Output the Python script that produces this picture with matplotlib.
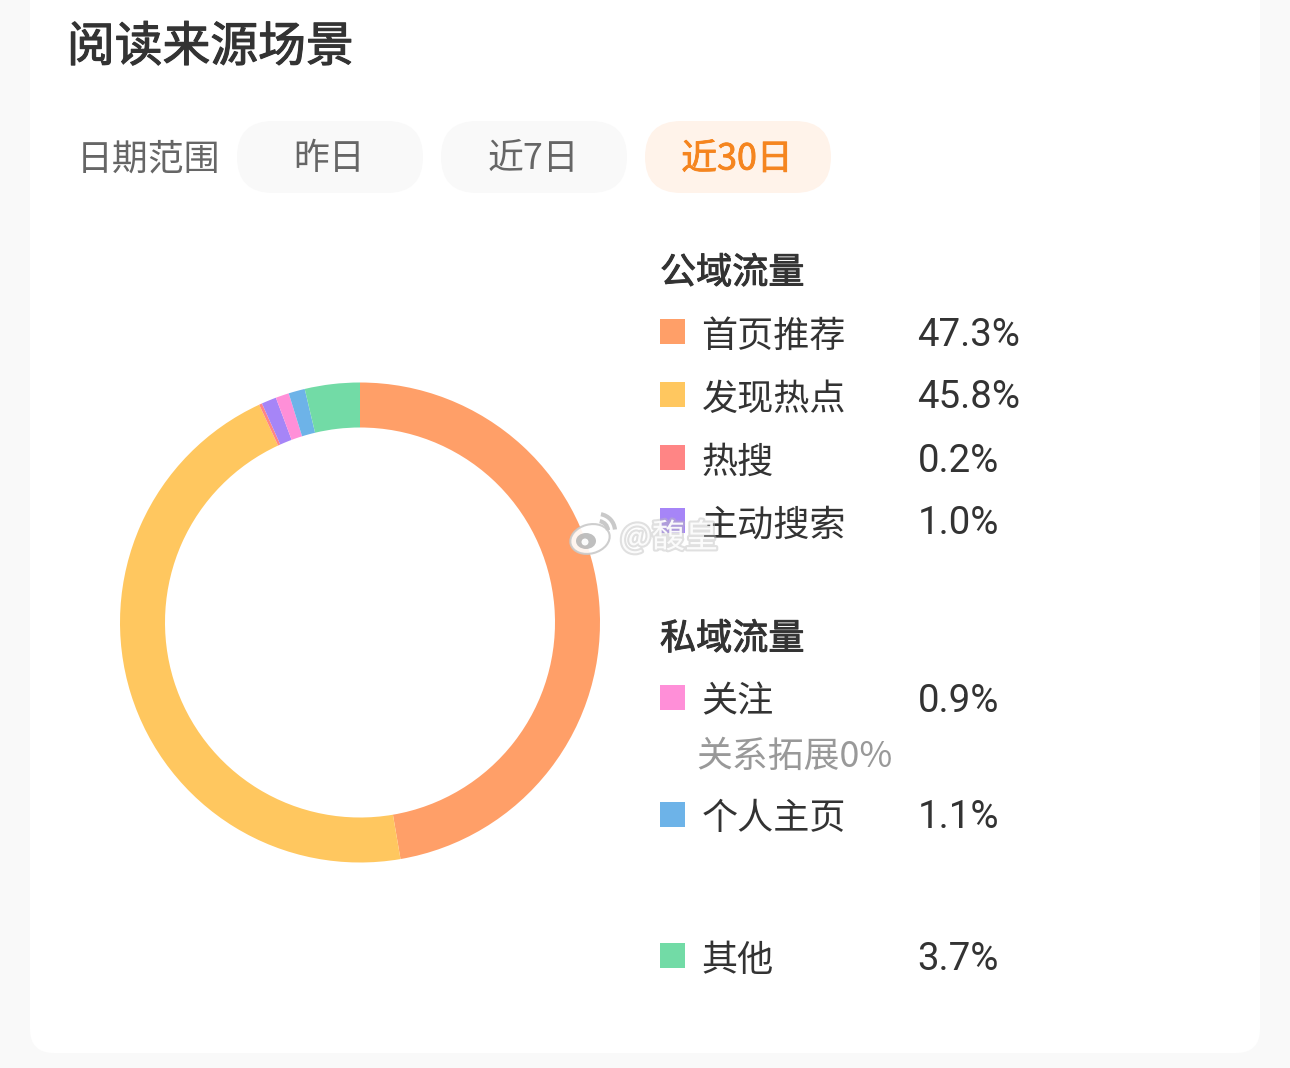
import matplotlib
matplotlib.use("Agg")
import matplotlib.pyplot as plt
import matplotlib.patheffects as pe
from matplotlib.patches import FancyBboxPatch, Rectangle, Ellipse, Arc

plt.rcParams['font.family'] = ['Noto Sans CJK SC', 'DejaVu Sans']

title = "阅读来源场景"
filter_label = "日期范围"
filter_options = ["昨日", "近7日", "近30日"]
active_option = "近30日"
public_header = "公域流量"
private_header = "私域流量"
categories = ["首页推荐", "发现热点", "热搜", "主动搜索", "关注", "关系拓展", "个人主页", "其他"]
values = [47.3, 45.8, 0.2, 1.0, 0.9, 0.0, 1.1, 3.7]
colors = ["#FF9F68", "#FFC75F", "#FF8585", "#A685F7", "#FF8FD8", "#BBBBBB", "#6DB3E8", "#72DBA6"]

W, H = 1290, 1068
fig = plt.figure(figsize=(W / 100, H / 100), dpi=100, facecolor="#F9F9F9")

# Layout layer in pixel coordinates
bg = fig.add_axes([0, 0, 1, 1], zorder=0)
bg.set_xlim(0, W)
bg.set_ylim(H, 0)
bg.axis("off")
bg.add_patch(FancyBboxPatch((30, -60), 1230, 1113, boxstyle="round,pad=0,rounding_size=24",
                            fc="white", ec="none"))

# Donut
cx, cy, r = 360, 622.5, 240
pie_ax = fig.add_axes([(cx - r) / W, 1 - (cy + r) / H, 2 * r / W, 2 * r / H], zorder=1)
pie_ax.pie(values, colors=colors, startangle=90, counterclock=False, radius=1,
           wedgeprops=dict(width=45 / 240, linewidth=0))
pie_ax.set_xlim(-1, 1)
pie_ax.set_ylim(-1, 1)
pie_ax.set_aspect("equal")

# Text and legend layer
fg = fig.add_axes([0, 0, 1, 1], zorder=2)
fg.set_xlim(0, W)
fg.set_ylim(H, 0)
fg.axis("off")
fg.patch.set_alpha(0)

DARK = "#333333"


def medium(color, width):
    return [pe.withStroke(linewidth=width, foreground=color)]


fg.text(67, 47.5, title, fontsize=34.4, color=DARK, va="center", ha="left", path_effects=medium(DARK, 0.8))
fg.text(77, 159.5, filter_label, fontsize=25.8, color="#666666", va="center", ha="left")

pill_x = [237, 441, 645]
for x, opt in zip(pill_x, filter_options):
    on = opt == active_option
    fg.add_patch(FancyBboxPatch((x, 121), 186, 72, boxstyle="round,pad=0,rounding_size=36",
                                fc="#FFF3EA" if on else "#F9F9F9", ec="none"))
    col = "#F5851F" if on else "#666666"
    fg.text(x + 92, 159.5, opt, fontsize=25.8, color=col, va="center", ha="center",
            path_effects=medium(col, 0.6) if on else None)

fg.text(660, 273.5, public_header, fontsize=26, color=DARK, va="center", path_effects=medium(DARK, 0.7))
fg.text(660, 639.5, private_header, fontsize=26, color=DARK, va="center", path_effects=medium(DARK, 0.7))

rows = {"首页推荐": 333, "发现热点": 396, "热搜": 459, "主动搜索": 522,
        "关注": 699, "个人主页": 816, "其他": 957}
for name, val, col in zip(categories, values, colors):
    if name == "关系拓展":
        fg.text(696, 756.5, f"{name}{val:.0f}%", fontsize=25.8, color="#999999", va="center")
        continue
    y = rows[name]
    fg.add_patch(Rectangle((660, y - 14), 24.5, 25, fc=col, ec="none"))
    fg.text(701.5, y + 3.5, name, fontsize=26, color=DARK, va="center")
    fg.text(917.5, y + 2, f"{val:.1f}%", fontsize=27.6, color=DARK, va="center", family="Roboto")

# Watermark
halo = [pe.withStroke(linewidth=3, foreground="#BBBBBB", alpha=0.45)]
fg.text(620, 538, "@馥皇", fontsize=24, color="#FFFFFF", alpha=0.9, va="center", path_effects=halo, zorder=6)
fg.add_patch(Ellipse((590, 539), 40, 29, angle=-15, fc="#FFFFFF", ec="#C9C9C9", lw=1.5, alpha=0.9, zorder=6))
fg.add_patch(Ellipse((586, 541), 20, 16, fc="#B0B0B0", ec="none", alpha=0.8, zorder=7))
fg.add_patch(Ellipse((585, 542), 7, 7, fc="#FFFFFF", ec="none", alpha=0.95, zorder=8))
fg.add_patch(Arc((598, 531), 20, 20, theta1=-80, theta2=-5, color="#C9C9C9", lw=3, zorder=7))
fg.add_patch(Arc((598, 531), 34, 34, theta1=-80, theta2=-5, color="#C9C9C9", lw=3, zorder=7))

fig.savefig("out.png", dpi=100, facecolor=fig.get_facecolor())
